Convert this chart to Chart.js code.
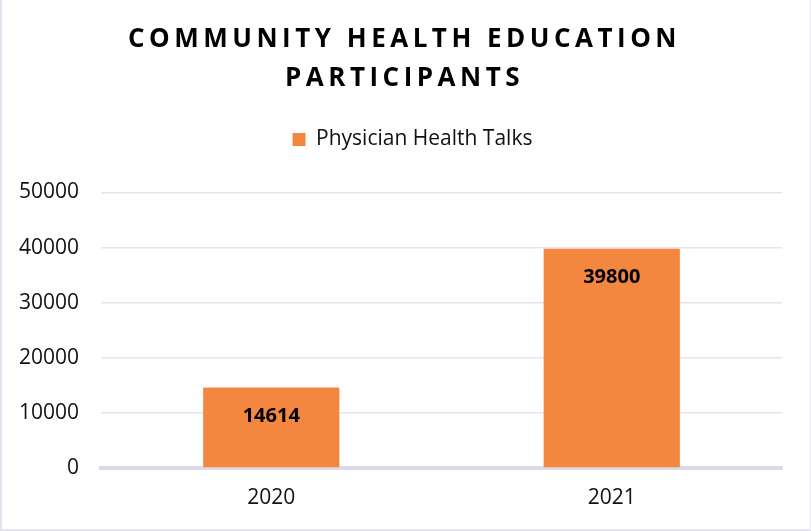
<!DOCTYPE html>
<html>
<head>
<meta charset="utf-8">
<script src="https://cdn.jsdelivr.net/npm/chart.js@4/dist/chart.umd.min.js"></script>
<style>
  html, body { margin: 0; padding: 0; background: #fff; }
  #wrap { width: 811px; height: 531px; box-sizing: border-box; border: 2px solid #e4e2ee; border-top: none; border-right: 1px solid #eceaf3; }
  canvas { display: block; }
</style>
</head>
<body>
<div id="wrap"><canvas id="c" width="808" height="529"></canvas></div>
<script>
const categories = ['2020', '2021'];
const seriesName = 'Physician Health Talks';
const seriesValues = [14614, 39800];
const titleLines = ['COMMUNITY HEALTH EDUCATION', 'PARTICIPANTS'];
const yTicks = [0, 10000, 20000, 30000, 40000, 50000];

const FONT = "'Open Sans', 'Noto Sans', sans-serif";
const ORANGE = '#F4873F';

const layoutTweaks = {
  id: 'layoutTweaks',
  afterInit(chart) {
    const tb = chart.titleBlock;
    if (tb && !tb._patched) {
      const orig = tb.draw;
      tb.draw = function () {
        const ctx = this.ctx;
        ctx.save();
        ctx.letterSpacing = '4.5px';
        orig.apply(this, arguments);
        ctx.restore();
      };
      tb._patched = true;
    }
    const lg = chart.legend;
    if (lg && !lg._patched) {
      const origFit = lg.fit;
      lg.fit = function () {
        origFit.apply(this, arguments);
        this.height = 73.5;
      };
      lg._patched = true;
    }
  },
  afterLayout(chart) {
    if (chart.titleBlock) { chart.titleBlock.left += 4; chart.titleBlock.right += 4; }
    if (chart.legend) { chart.legend.left += 12; chart.legend.right += 12; }
  }
};

const valueLabels = {
  id: 'valueLabels',
  afterDatasetsDraw(chart) {
    const ctx = chart.ctx;
    chart.data.datasets.forEach((ds, di) => {
      const meta = chart.getDatasetMeta(di);
      meta.data.forEach((bar, i) => {
        ctx.save();
        ctx.font = "bold 20px " + FONT;
        ctx.fillStyle = '#000';
        ctx.textAlign = 'center';
        ctx.textBaseline = 'middle';
        ctx.fillText(String(ds.data[i]), bar.x, bar.y + 29);
        ctx.restore();
      });
    });
  }
};

new Chart(document.getElementById('c'), {
  type: 'bar',
  data: {
    labels: categories,
    datasets: [{
      label: seriesName,
      data: seriesValues,
      backgroundColor: ORANGE,
      borderWidth: 0,
      barPercentage: 0.4,
      categoryPercentage: 1.0
    }]
  },
  options: {
    responsive: false,
    animation: false,
    layout: { padding: { left: 17, right: 28, top: 0, bottom: 18 } },
    plugins: {
      title: {
        display: true,
        text: titleLines,
        color: '#000',
        font: { family: FONT, size: 26, weight: 'bold', lineHeight: 1.5 },
        padding: { top: 20, bottom: 21 }
      },
      legend: {
        display: true,
        position: 'top',
        labels: {
          color: '#111',
          font: { family: FONT, size: 21 },
          boxWidth: 13,
          boxHeight: 13,
          padding: 10
        }
      },
      tooltip: { enabled: false }
    },
    scales: {
      x: {
        afterFit(scale) { scale.height = 43; },
        grid: { display: false, drawTicks: false },
        border: { display: true, color: '#dcd9e8', width: 4 },
        ticks: { color: '#111', font: { family: FONT, size: 21 }, padding: 17 }
      },
      y: {
        min: 0,
        max: 50000,
        afterBuildTicks(scale) { scale.ticks = yTicks.map(v => ({ value: v })); },
        afterFit(scale) { scale.width = 82; },
        grid: {
          color: '#e6e4ef',
          lineWidth: 1.6,
          drawTicks: false
        },
        border: { display: false },
        ticks: {
          color: '#111',
          font: { family: FONT, size: 21 },
          padding: 22,
          callback: (v) => String(v)
        }
      }
    }
  },
  plugins: [layoutTweaks, valueLabels]
});
</script>
</body>
</html>
